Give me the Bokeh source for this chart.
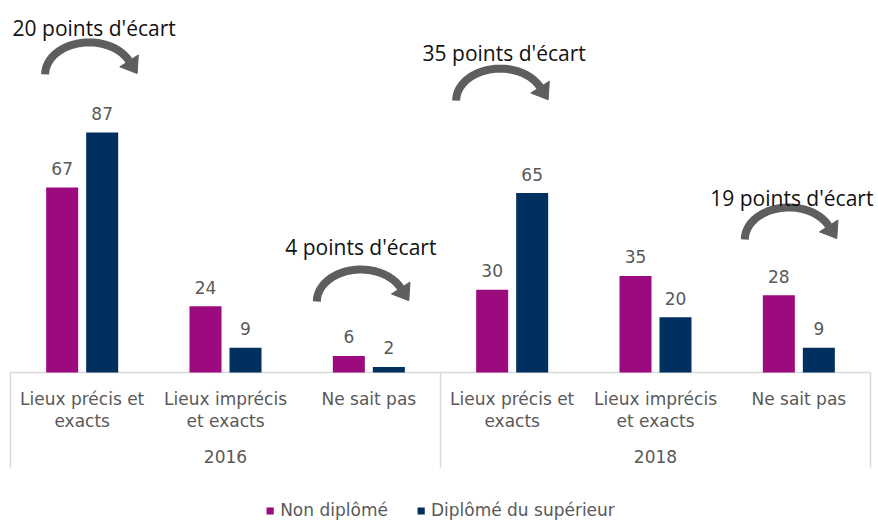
import numpy as np
from bokeh.plotting import figure
from bokeh.models import ColumnDataSource, FactorRange, Range1d, Label
from bokeh.transform import dodge
from bokeh.core.properties import value
from bokeh.embed import file_html
from bokeh.resources import INLINE

# ---------------- data ----------------
years = ["2016", "2018"]
categories = ["Lieux précis et exacts", "Lieux imprécis et exacts", "Ne sait pas"]
category_line1 = ["Lieux précis et", "Lieux imprécis", "Ne sait pas"]
category_line2 = ["exacts", "et exacts", ""]
non_diplome = [67, 24, 6, 30, 35, 28]
diplome_sup = [87, 9, 2, 65, 20, 9]
series_names = ["Non diplômé", "Diplômé du supérieur"]
annotated = [("2016", "Lieux précis et exacts"), ("2016", "Ne sait pas"),
             ("2018", "Lieux précis et exacts"), ("2018", "Ne sait pas")]

# ---------------- layout / style ----------------
W, H = 878, 520
BL, BR = 2, 0
PAD_PX = 8
PX_CAT = (W - BL - BR - 2 * PAD_PX) / 6.0   # pixels per category
PPU = 2.76                          # pixels per value unit
BASE_PX = 372                       # baseline position from top
MAG = "#9C0B7E"
NAVY = "#00305F"
GREY_TXT = "#595959"
LINE_C = "#D9D9D9"
ARROW_C = "#5E5E5E"
FONT = "DejaVu Sans"

# annotation placement (data units for y, pixels for x offsets)
ann_text_y = [125.0, 45.3, 115.6, 63.4]
ann_arc_top = [119.6, 37.3, 110.1, 59.8]
ann_text_dx = [12, -8, -8, -7]
ann_arc_dx = [7, -8, -12, -10]

factors = [(y, c) for y in years for c in categories]

p = figure(width=W, height=H, output_backend="svg", toolbar_location=None,
           x_range=FactorRange(*factors, factor_padding=0, group_padding=0,
                               subgroup_padding=0,
                               range_padding=PAD_PX / PX_CAT,
                               range_padding_units="absolute"),
           y_range=Range1d(-(H - BASE_PX) / PPU, BASE_PX / PPU),
           x_axis_location=None, y_axis_location=None,
           min_border_left=BL, min_border_right=BR, min_border_top=0,
           min_border_bottom=0)
p.grid.visible = False
p.outline_line_color = None
p.background_fill_color = "white"
p.border_fill_color = "white"

# axis frame lines
p.segment(x0=[0], y0=[0], x1=[6], y1=[0], line_color=LINE_C, line_width=1.5)
sep_bottom = -95 / PPU
p.segment(x0=[0, 3, 6], y0=[0, 0, 0], x1=[0, 3, 6], y1=[sep_bottom] * 3,
          line_color=LINE_C, line_width=1.5)

src = ColumnDataSource(dict(
    x=factors, nd=non_diplome, ds=diplome_sup,
    nd_t=[str(v) for v in non_diplome], ds_t=[str(v) for v in diplome_sup],
    l1=category_line1 * 2, l2=category_line2 * 2))

OFF = 20 / PX_CAT
BW = 32 / PX_CAT
p.vbar(x=dodge("x", -OFF, range=p.x_range), top="nd", bottom=0, width=BW,
       source=src, fill_color=MAG, line_color=None, legend_label=series_names[0])
p.vbar(x=dodge("x", OFF, range=p.x_range), top="ds", bottom=0, width=BW,
       source=src, fill_color=NAVY, line_color=None, legend_label=series_names[1])

for col, off in (("nd", -OFF), ("ds", OFF)):
    p.text(x=dodge("x", off, range=p.x_range), y=col, text=col + "_t", source=src,
           text_align="center", text_baseline="middle", y_offset=-19,
           text_font=value(FONT), text_font_size="17px", text_color=GREY_TXT)

# category labels
p.text(x="x", y=-26 / PPU, text="l1", source=src, text_align="center",
       text_baseline="middle", text_font=value(FONT), text_font_size="17px",
       text_color=GREY_TXT)
p.text(x="x", y=-48 / PPU, text="l2", source=src, text_align="center",
       text_baseline="middle", text_font=value(FONT), text_font_size="17px",
       text_color=GREY_TXT)
p.text(x=[(y, categories[1]) for y in years], y=[-84 / PPU] * 2, text=years,
       text_align="center", text_baseline="middle", text_font=value(FONT),
       text_font_size="17px", text_color=GREY_TXT)

# annotations: gap labels + curved arrows
gap_labels = []
for f in annotated:
    i = factors.index(f)
    gap_labels.append(f"{abs(diplome_sup[i] - non_diplome[i])} points d'écart")

centers = [factors.index(f) + 0.5 for f in annotated]
for c, dx, ty, lab in zip(centers, ann_text_dx, ann_text_y, gap_labels):
    p.add_layout(Label(x=c + dx / PX_CAT, y=ty, text=lab, text_align="center",
                       text_baseline="middle", text_font="Open Sans",
                       text_font_size="21px", text_color="#111111"))

a_px, b_px = 44.0, 32.0
t_end = np.radians(25)
ts = np.linspace(np.pi, t_end, 40)
xs_all, ys_all, hx_all, hy_all = [], [], [], []
for c, dx, top in zip(centers, ann_arc_dx, ann_arc_top):
    cx = c + dx / PX_CAT
    px_x = a_px * np.cos(ts)
    px_y = b_px - b_px * np.sin(ts)     # downward pixels from arc top
    xs_all.append(list(cx + px_x / PX_CAT))
    ys_all.append(list(top - px_y / PPU))
    ex, ey = a_px * np.cos(t_end), b_px - b_px * np.sin(t_end)
    d = np.array([a_px * np.sin(t_end), b_px * np.cos(t_end)])
    d = d / np.linalg.norm(d)
    perp = np.array([d[1], -d[0]])
    tip = np.array([ex, ey]) + 15 * d
    b1 = np.array([ex, ey]) + 11 * perp
    b2 = np.array([ex, ey]) - 11 * perp
    pts = [b1, tip, b2]
    hx_all.append([cx + q[0] / PX_CAT for q in pts])
    hy_all.append([top - q[1] / PPU for q in pts])

p.multi_line(xs=xs_all, ys=ys_all, line_color=ARROW_C, line_width=8)
p.patches(xs=hx_all, ys=hy_all, fill_color=ARROW_C, line_color=ARROW_C)

leg = p.legend[0]
leg.location = "bottom_center"
leg.orientation = "horizontal"
leg.border_line_color = None
leg.background_fill_alpha = 0
leg.margin = 0
leg.padding = 0
leg.spacing = 28
leg.glyph_width = 9
leg.glyph_height = 9
leg.label_standoff = 6
leg.label_text_font = FONT
leg.label_text_font_size = "17px"
leg.label_text_color = GREY_TXT

open("out.html", "w").write(file_html(p, INLINE))
